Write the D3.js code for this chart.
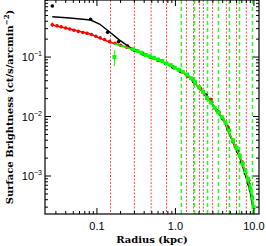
<!DOCTYPE html>
<html>
<head>
<meta charset="utf-8">
<script src="https://cdn.jsdelivr.net/npm/d3@7"></script>
<style>
  body { margin: 0; background: #fff; }
  svg { display: block; }
</style>
</head>
<body>
<script>
// radius (kpc) and surface brightness (ct/s/arcmin^2)
var blackR  = [0.027, 0.083, 0.137, 0.188, 0.245, 0.30, 0.38, 0.48, 0.60, 0.75, 0.92, 1.15, 1.40, 1.70, 2.05, 2.45, 2.90, 3.40, 4.00, 4.70, 5.40, 6.20, 7.00, 7.80, 8.60, 9.40];
var blackSB = [0.72, 0.431, 0.260, 0.181, 0.153, 0.130, 0.114, 0.100, 0.088, 0.078, 0.068, 0.058, 0.050, 0.039, 0.030, 0.023, 0.0175, 0.0125, 0.0092, 0.0062, 0.0038, 0.0026, 0.0017, 0.0011, 0.00074, 0.00045];
var blackModelR  = [0.027, 0.045, 0.083, 0.108, 0.144, 0.194, 0.283, 0.35, 0.51, 0.75, 1.12, 1.51, 2.02, 2.71, 3.43, 4.21, 5.32, 6.54, 7.79, 9.02, 9.70];
var blackModelSB = [0.475, 0.452, 0.419, 0.359, 0.266, 0.193, 0.136, 0.121, 0.096, 0.079, 0.0605, 0.046, 0.030, 0.0189, 0.0124, 0.0082, 0.0039, 0.0021, 0.00105, 0.00052, 0.00030];

var redR   = [0.027, 0.031, 0.035, 0.040, 0.045, 0.051, 0.058, 0.066, 0.075, 0.085, 0.097, 0.110, 0.125, 0.145, 0.170, 0.20, 0.24, 0.28, 0.40, 0.62, 0.95, 1.45, 2.10, 2.80, 3.60, 4.60, 5.80, 7.20, 8.60];
var redSB  = [0.350, 0.335, 0.322, 0.308, 0.296, 0.283, 0.270, 0.258, 0.250, 0.240, 0.224, 0.210, 0.197, 0.182, 0.170, 0.158, 0.146, 0.136, 0.111, 0.088, 0.067, 0.047, 0.029, 0.0195, 0.0118, 0.0068, 0.0031, 0.00165, 0.00085];
var redErr = [0.030, 0.020, 0.018, 0.016, 0.015, 0.014, 0.013, 0.012, 0.012, 0.011, 0.010, 0.010, 0.009, 0.009, 0.008, 0.008, 0.007, 0.007, 0.005, 0.004, 0.003, 0.002, 0.0015, 0.0010, 0.0007, 0.0005, 0.0003, 0.0002, 0.00012];
var redModelR  = [0.027, 0.045, 0.083, 0.108, 0.144, 0.194, 0.283, 0.35, 0.51, 0.75, 1.12, 1.51, 2.02, 2.71, 3.43, 4.21, 5.32, 6.54, 7.79, 9.02];
var redModelSB = [0.345, 0.296, 0.244, 0.208, 0.179, 0.159, 0.136, 0.121, 0.096, 0.079, 0.0605, 0.046, 0.030, 0.0189, 0.0124, 0.0084, 0.0040, 0.00225, 0.00117, 0.000605];

var greenR   = [0.167, 0.29, 0.33, 0.37, 0.42, 0.47, 0.53, 0.60, 0.68, 0.77, 0.87, 0.98, 1.10, 1.24, 1.40, 1.58, 1.78, 2.00, 2.25, 2.52, 2.82, 3.15, 3.50, 3.90, 4.35, 4.85, 5.40, 6.00, 6.60, 7.20, 7.80, 8.40, 9.00, 9.50, 9.90];
var greenSB  = [0.100, 0.135, 0.126, 0.118, 0.108, 0.103, 0.097, 0.091, 0.086, 0.078, 0.073, 0.066, 0.061, 0.056, 0.051, 0.044, 0.038, 0.031, 0.026, 0.0205, 0.0172, 0.0140, 0.0118, 0.0098, 0.0079, 0.0058, 0.0040, 0.0030, 0.0022, 0.0016, 0.00120, 0.00088, 0.00062, 0.00042, 0.00030];
var greenErr = [0.030, 0.008, 0.007, 0.006, 0.006, 0.005, 0.005, 0.005, 0.004, 0.004, 0.004, 0.003, 0.003, 0.003, 0.003, 0.002, 0.002, 0.002, 0.0015, 0.0012, 0.0010, 0.0009, 0.0008, 0.0007, 0.0006, 0.0005, 0.0004, 0.0003, 0.00025, 0.0002, 0.00016, 0.00014, 0.00012, 0.0001, 0.00008];
var greenModelR  = [0.167, 0.20, 0.283, 0.35, 0.51, 0.75, 1.12, 1.51, 2.02, 2.71, 3.43, 4.21, 5.32, 6.54, 7.79, 9.02, 9.86];
var greenModelSB = [0.167, 0.155, 0.136, 0.121, 0.096, 0.079, 0.0605, 0.046, 0.030, 0.0189, 0.0124, 0.0084, 0.0040, 0.00225, 0.00117, 0.000605, 0.00030];

// vertical marker lines (kpc)
var redLines   = [0.149, 0.30, 0.49, 0.77, 1.38, 1.70, 2.02, 2.27, 2.96, 4.46, 5.99, 8.0];
var greenLines = [1.19, 1.75, 2.56, 3.53, 4.87, 6.54, 9.57];

var xTicks = [0.1, 1, 10];
var xTickLabels = ["0.1", "1.0", "10.0"];
var yTicks = [1e-1, 1e-2, 1e-3];
var yTickExp = ["\u22121", "\u22122", "\u22123"];

var width = 266, height = 246;
var margin = {left: 45, right: 7, top: 0, bottom: 32};

var svg = d3.select("body").append("svg")
  .attr("width", width)
  .attr("height", height);

var x = d3.scaleLog().domain([0.0218, 11.6]).range([margin.left, width - margin.right]);
var y = d3.scaleLog().domain([0.91, 2.3e-4]).range([margin.top, height - margin.bottom]);

var plot = svg.append("g");

// clip to frame
svg.append("clipPath").attr("id", "clip").append("rect")
  .attr("x", margin.left).attr("y", margin.top)
  .attr("width", width - margin.left - margin.right)
  .attr("height", height - margin.top - margin.bottom);
plot.attr("clip-path", "url(#clip)");

plot.selectAll(".rl").data(redLines).enter().append("line")
  .attr("x1", function (d) { return x(d); }).attr("x2", function (d) { return x(d); })
  .attr("y1", y.range()[0]).attr("y2", y.range()[1])
  .attr("stroke", "#ff2020").attr("stroke-opacity", 0.8)
  .attr("stroke-width", 1).attr("stroke-dasharray", "2,1.5");

plot.selectAll(".gl").data(greenLines).enter().append("line")
  .attr("x1", function (d) { return x(d); }).attr("x2", function (d) { return x(d); })
  .attr("y1", y.range()[0]).attr("y2", y.range()[1])
  .attr("stroke", "#00ff00").attr("stroke-opacity", 0.85)
  .attr("stroke-width", 1.5).attr("stroke-dasharray", "4,3");

var line = d3.line()
  .x(function (d) { return x(d[0]); })
  .y(function (d) { return y(d[1]); });

function drawSeries(R, SB, err, color, shape) {
  var pts = R.map(function (r, i) { return [r, SB[i], err ? err[i] : 0]; });
  if (err) {
    plot.selectAll(null).data(pts).enter().append("line")
      .attr("x1", function (d) { return x(d[0]); }).attr("x2", function (d) { return x(d[0]); })
      .attr("y1", function (d) { return y(d[1] + d[2]); })
      .attr("y2", function (d) { return y(Math.max(d[1] - d[2], 1e-5)); })
      .attr("stroke", color).attr("stroke-width", 1);
  }
  if (shape === "square") {
    plot.selectAll(null).data(pts).enter().append("rect")
      .attr("x", function (d) { return x(d[0]) - 2; })
      .attr("y", function (d) { return y(d[1]) - 2; })
      .attr("width", 4).attr("height", 4)
      .attr("fill", color);
  } else {
    plot.selectAll(null).data(pts).enter().append("circle")
      .attr("cx", function (d) { return x(d[0]); })
      .attr("cy", function (d) { return y(d[1]); })
      .attr("r", 1.8)
      .attr("fill", color);
  }
}

function drawModel(R, SB, color) {
  plot.append("path")
    .datum(R.map(function (r, i) { return [r, SB[i]]; }))
    .attr("d", line)
    .attr("fill", "none")
    .attr("stroke", color)
    .attr("stroke-width", 1.5);
}

drawSeries(blackR, blackSB, null, "#000", "circle");
drawModel(blackModelR, blackModelSB, "#000");
drawSeries(redR, redSB, redErr, "#ff0000", "circle");
drawModel(redModelR, redModelSB, "#ff0000");
drawSeries(greenR, greenSB, greenErr, "#00ff00", "square");
drawModel(greenModelR, greenModelSB, "#00ff00");

// frame
var x0 = x.range()[0], x1 = x.range()[1], y0 = y.range()[0], y1 = y.range()[1];
svg.append("rect")
  .attr("x", x0).attr("y", y0)
  .attr("width", x1 - x0).attr("height", y1 - y0)
  .attr("fill", "none").attr("stroke", "#000").attr("stroke-width", 1.2);

// ticks, inward on all four sides
var xMinor = [], yMinor = [];
[0.01, 0.1, 1, 10].forEach(function (dec) {
  for (var k = 2; k <= 9; k++) {
    var v = dec * k;
    if (v > x.domain()[0] && v < x.domain()[1]) xMinor.push(v);
  }
});
[1e-4, 1e-3, 1e-2, 1e-1].forEach(function (dec) {
  for (var k = 2; k <= 9; k++) {
    var v = dec * k;
    if (v > y.domain()[1] && v < y.domain()[0]) yMinor.push(v);
  }
});

var ticks = svg.append("g").attr("stroke", "#000").attr("stroke-width", 1);
function xt(vals, len) {
  vals.forEach(function (v) {
    ticks.append("line").attr("x1", x(v)).attr("x2", x(v)).attr("y1", y1).attr("y2", y1 - len);
    ticks.append("line").attr("x1", x(v)).attr("x2", x(v)).attr("y1", y0).attr("y2", y0 + len);
  });
}
function yt(vals, len) {
  vals.forEach(function (v) {
    ticks.append("line").attr("y1", y(v)).attr("y2", y(v)).attr("x1", x0).attr("x2", x0 + len);
    ticks.append("line").attr("y1", y(v)).attr("y2", y(v)).attr("x1", x1).attr("x2", x1 - len);
  });
}
xt(xTicks, 6); xt(xMinor, 3);
yt(yTicks, 6); yt(yMinor, 3);

var tickFont = "Liberation Sans, Arial, sans-serif";
svg.selectAll(".xl").data(xTicks).enter().append("text")
  .attr("x", function (d) { return x(d); })
  .attr("y", y1 + 16)
  .attr("text-anchor", "middle")
  .attr("font-family", tickFont).attr("font-size", 11)
  .text(function (d, i) { return xTickLabels[i]; });

var yl = svg.selectAll(".yl").data(yTicks).enter().append("text")
  .attr("x", x0 - 3)
  .attr("y", function (d) { return y(d) + 4; })
  .attr("text-anchor", "end")
  .attr("font-family", tickFont).attr("font-size", 11);
yl.append("tspan").text("10");
yl.append("tspan").attr("dy", -5).attr("font-size", 7).text(function (d, i) { return yTickExp[i]; });

var titleFont = "DejaVu Serif, serif";
svg.append("text")
  .attr("x", (x0 + x1) / 2)
  .attr("y", height - 3)
  .attr("text-anchor", "middle")
  .attr("font-family", titleFont).attr("font-size", 10).attr("font-weight", "bold")
  .text("Radius (kpc)");

var yt2 = svg.append("text")
  .attr("transform", "translate(13," + ((y0 + y1) / 2) + ") rotate(-90)")
  .attr("text-anchor", "middle")
  .attr("font-family", titleFont).attr("font-size", 10).attr("font-weight", "bold");
yt2.append("tspan").text("Surface Brightness (ct/s/arcmin");
yt2.append("tspan").attr("dy", -4).attr("font-size", 7).text("\u22122");
yt2.append("tspan").attr("dy", 4).text(")");
</script>
</body>
</html>
